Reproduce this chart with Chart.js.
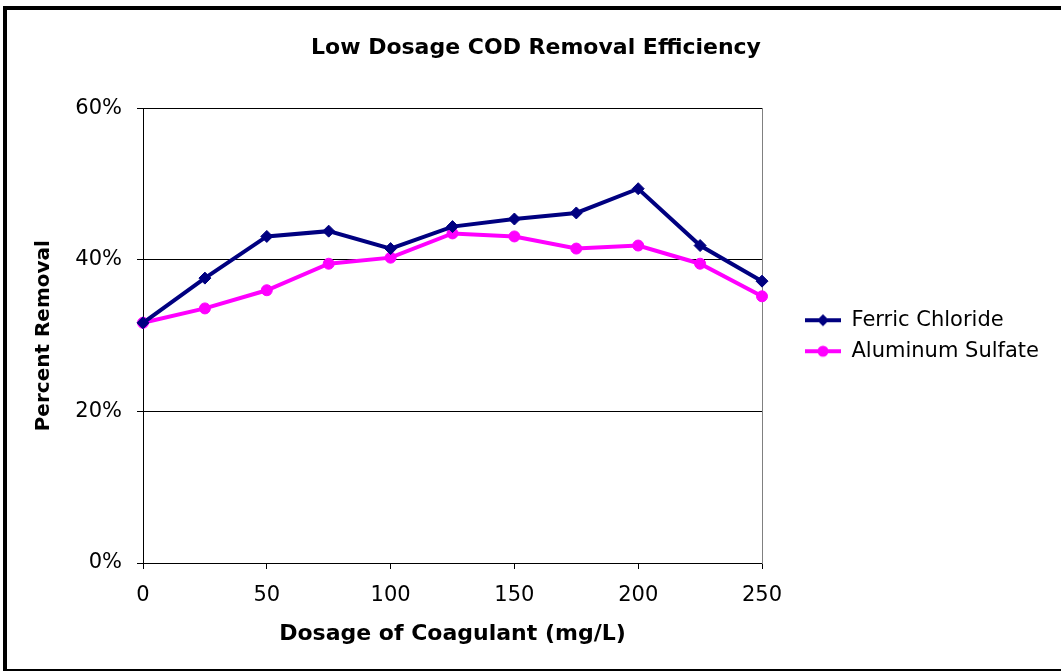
<!DOCTYPE html>
<html>
<head>
<meta charset="utf-8">
<title>Low Dosage COD Removal Efficiency</title>
<script src="https://cdn.jsdelivr.net/npm/chart.js@4.4.1/dist/chart.umd.min.js"></script>
<style>
  html, body { margin: 0; padding: 0; background: #fff; overflow: hidden; }
  #frame {
    position: absolute; left: 3px; top: 6px; width: 1100px; height: 667px;
    box-sizing: border-box; border: 4px solid #000;
  }
  #wrap { position: absolute; left: 0; top: 0; width: 1061px; height: 671px; }
</style>
</head>
<body>
<div id="frame"></div>
<div id="wrap"><canvas id="chart"></canvas></div>
<script>
// dosage of coagulant (mg/L)
const dosage = [0, 25, 50, 75, 100, 125, 150, 175, 200, 225, 250];
// percent removal
const ferricChloride = [31.7, 37.6, 43.1, 43.8, 41.5, 44.4, 45.4, 46.2, 49.4, 41.9, 37.2];
const aluminumSulfate = [31.7, 33.6, 36.0, 39.5, 40.3, 43.5, 43.1, 41.5, 41.9, 39.5, 35.2];
const seriesNames = ['Ferric Chloride', 'Aluminum Sulfate'];

const FONT = "'DejaVu Sans', 'Liberation Sans', Arial, sans-serif";
const NAVY = '#000080';
const MAGENTA = '#FF00FF';
const LEGEND_FONT = 21;
const LEGEND_PAD = 10;
const LEGEND_ICON_W = 36;

Chart.defaults.color = '#000';
Chart.defaults.font.family = FONT;

// little line + marker images for the legend
function legendIcon(color, marker) {
    const c = document.createElement('canvas');
    c.width = LEGEND_ICON_W; c.height = 14;
    const g = c.getContext('2d');
    g.strokeStyle = color;
    g.fillStyle = color;
    g.lineWidth = 4;
    g.beginPath(); g.moveTo(0, 7); g.lineTo(LEGEND_ICON_W, 7); g.stroke();
    g.beginPath();
    if (marker === 'circle') {
        g.arc(18, 7, 5.5, 0, Math.PI * 2);
    } else {
        g.moveTo(18, 1); g.lineTo(24, 7); g.lineTo(18, 13); g.lineTo(12, 7); g.closePath();
    }
    g.fill();
    return c;
}
const legendIcons = [legendIcon(NAVY, 'diamond'), legendIcon(MAGENTA, 'circle')];

// legend has to start at x=795, so work out its width and the right padding
const measure = document.createElement('canvas').getContext('2d');
measure.font = LEGEND_FONT + 'px ' + FONT;
const textW = Math.max(...seriesNames.map(n => measure.measureText(n).width));
const legendW = 2 * LEGEND_PAD + LEGEND_ICON_W + LEGEND_FONT / 2 + textW;
const padR = Math.max(0, 1061 - 795 - legendW);
const padL = Math.max(0, 11 + padR);   // keeps the chart title centred near x=536

const toPoints = vals => vals.map((v, i) => ({ x: dosage[i], y: v }));

new Chart(document.getElementById('chart'), {
    type: 'line',
    data: {
        datasets: [
            {
                label: seriesNames[0],
                data: toPoints(ferricChloride),
                borderColor: NAVY,
                backgroundColor: NAVY,
                borderWidth: 4,
                pointStyle: 'rectRot',
                pointRadius: 6,
                pointBorderWidth: 1,
                tension: 0,
                clip: false
            },
            {
                label: seriesNames[1],
                data: toPoints(aluminumSulfate),
                borderColor: MAGENTA,
                backgroundColor: MAGENTA,
                borderWidth: 4,
                pointStyle: 'circle',
                pointRadius: 5.5,
                pointBorderWidth: 1,
                tension: 0,
                clip: false
            }
        ]
    },
    options: {
        responsive: true,
        maintainAspectRatio: false,
        animation: false,
        layout: { padding: { top: 10, right: padR, bottom: 0, left: padL } },
        plugins: {
            title: {
                display: true,
                text: 'Low Dosage COD Removal Efficiency',
                font: { size: 22, weight: 'bold' },
                padding: { top: 25, bottom: 47 }
            },
            legend: {
                position: 'right',
                fullSize: false,
                maxWidth: 500,
                labels: {
                    font: { size: LEGEND_FONT },
                    padding: LEGEND_PAD,
                    usePointStyle: true,
                    pointStyleWidth: LEGEND_ICON_W,
                    generateLabels: chart => Chart.defaults.plugins.legend.labels.generateLabels(chart)
                        .map((item, i) => ({ ...item, pointStyle: legendIcons[i] }))
                }
            },
            tooltip: { enabled: false }
        },
        scales: {
            x: {
                type: 'linear',
                min: 0,
                max: 250,
                ticks: { stepSize: 50, font: { size: 21 }, padding: 14 },
                grid: { drawOnChartArea: false, tickLength: 6, tickColor: '#000' },
                border: { color: '#000', width: 1 },
                title: {
                    display: true,
                    text: 'Dosage of Coagulant (mg/L)',
                    font: { size: 22, weight: 'bold' },
                    padding: { top: 0, bottom: 24 }
                },
                afterFit: s => { s.height = 108; }
            },
            y: {
                min: 0,
                max: 60,
                ticks: { stepSize: 20, font: { size: 21 }, padding: 15, callback: v => v + '%' },
                grid: { color: '#000', lineWidth: 1, tickLength: 6, tickColor: '#000' },
                border: { color: '#000', width: 1 },
                title: {
                    display: true,
                    text: 'Percent Removal',
                    font: { size: 20, weight: 'bold' },
                    padding: { top: 32 - padL, bottom: 0 }
                },
                afterFit: s => { s.width = 143 - padL; }
            },
            // right edge of the plot area
            y2: {
                position: 'right',
                ticks: { display: false },
                grid: { display: false },
                border: { color: '#808080', width: 1 },
                afterFit: s => { s.width = 33; }
            }
        }
    }
});
</script>
</body>
</html>
